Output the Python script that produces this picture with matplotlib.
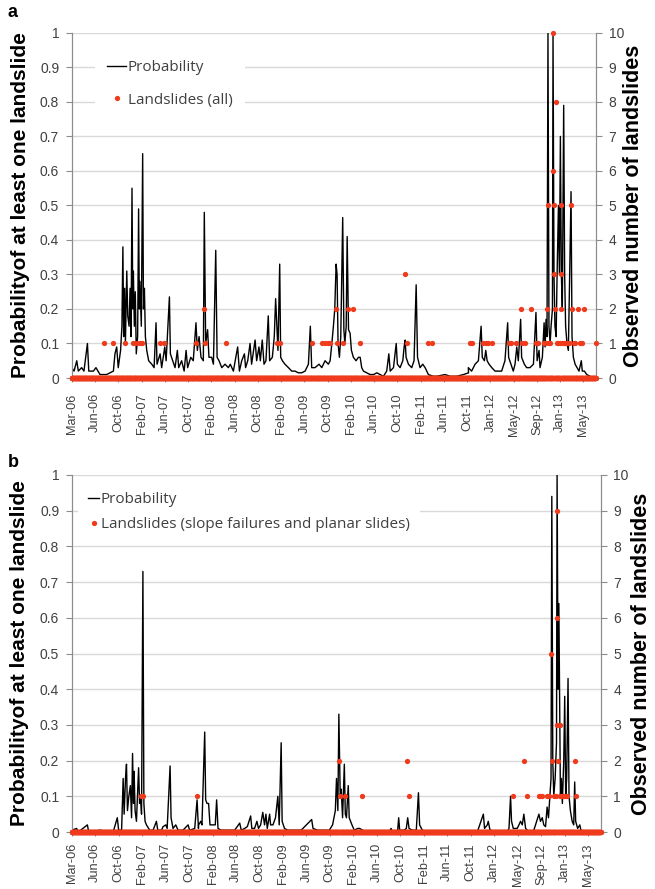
"""
Landslide probability vs observed landslides (two panels)
"""
import matplotlib
matplotlib.use("Agg")
import matplotlib.pyplot as plt
import numpy as np
import pandas as pd
from matplotlib.ticker import FuncFormatter, MultipleLocator

START = pd.Timestamp("2006-03-01")
END = pd.Timestamp("2013-07-27")

# ---------------------------------------------------------------
# Panel a - probability (day offset from START, value)
# ---------------------------------------------------------------
prob_a_day = [
    0, 12, 26, 34, 51, 63, 81, 88, 112, 125, 146, 180, 215, 223, 232, 240,
    252, 259, 264, 268, 273, 277, 284, 289, 296, 301, 306, 311, 315, 318, 323,
    328, 333, 340, 345, 349, 352, 359, 366, 370, 375, 380, 387, 397, 413, 425,
    435, 440, 456, 464, 480, 487, 504, 509, 521, 533, 545, 552, 567, 580, 590,
    598, 614, 627, 641, 648,
    657, 667, 679, 684, 691, 701, 708, 722, 731, 743, 750, 760, 774, 791, 808,
    818, 834, 856, 865, 877, 891, 897, 908, 920, 928, 946, 954, 966, 973, 983,
    992, 1002, 1014, 1021, 1035, 1045, 1052, 1057, 1064, 1073, 1078, 1087,
    1100, 1118, 1135, 1152, 1169, 1186, 1204, 1221, 1231, 1238, 1255, 1276,
    1290, 1307, 1324,
    1333, 1342, 1350, 1357, 1364, 1369, 1374, 1381, 1388, 1398, 1404, 1409,
    1416, 1421, 1428, 1436, 1443, 1453, 1467, 1479, 1488, 1496, 1505, 1522,
    1539, 1557, 1574, 1591, 1608, 1625, 1636, 1643, 1660, 1674, 1680, 1694,
    1708, 1715, 1720, 1725, 1737, 1754, 1766, 1777, 1784, 1797, 1811, 1823,
    1840, 1866, 1883, 1926, 1952, 1987, 2021, 2047,
    2046, 2063, 2081, 2098, 2112, 2118, 2129, 2136, 2143, 2153, 2167, 2184,
    2201, 2218, 2235, 2249, 2254, 2266, 2278, 2287, 2296, 2304, 2316, 2321,
    2335, 2347, 2364, 2382, 2395, 2401, 2411, 2416, 2428, 2437, 2442, 2447,
    2452, 2457, 2462, 2468, 2473, 2480, 2483, 2488, 2493, 2499, 2504, 2511,
    2516, 2521, 2526, 2531, 2538, 2543, 2548, 2555, 2562, 2569, 2576, 2581,
    2588, 2597, 2607, 2617, 2629, 2634, 2645, 2657, 2674, 2691, 2703,
]
prob_a_val = [
    0.03, 0.02, 0.05, 0.02, 0.03, 0.02, 0.10, 0.02, 0.02, 0.03, 0.01, 0.01,
    0.02, 0.07, 0.09, 0.03, 0.08, 0.15, 0.38, 0.12, 0.26, 0.10, 0.31, 0.18,
    0.15, 0.26, 0.12, 0.55, 0.20, 0.31, 0.15, 0.25, 0.07, 0.12, 0.49, 0.20,
    0.28, 0.15, 0.65, 0.20, 0.26, 0.12, 0.08, 0.05, 0.04, 0.03, 0.16, 0.04,
    0.07, 0.03, 0.09, 0.05, 0.235, 0.07, 0.05, 0.03, 0.08, 0.03, 0.05, 0.02,
    0.08, 0.03, 0.06, 0.05, 0.16, 0.08,
    0.12, 0.06, 0.05, 0.48, 0.10, 0.14, 0.06, 0.06, 0.04, 0.37, 0.06, 0.05,
    0.03, 0.04, 0.03, 0.04, 0.02, 0.09, 0.02, 0.05, 0.07, 0.03, 0.05, 0.10,
    0.04, 0.11, 0.05, 0.09, 0.05, 0.11, 0.04, 0.05, 0.18, 0.05, 0.06, 0.12,
    0.23, 0.17, 0.08, 0.33, 0.06, 0.05, 0.04, 0.03, 0.02, 0.02, 0.015, 0.015,
    0.02, 0.04, 0.15, 0.03, 0.03, 0.04, 0.03, 0.05, 0.04,
    0.05, 0.10, 0.15, 0.20, 0.33, 0.30, 0.10, 0.06, 0.12, 0.465, 0.14, 0.10,
    0.15, 0.41, 0.14, 0.13, 0.08, 0.06, 0.05, 0.06, 0.06, 0.03, 0.02, 0.015,
    0.01, 0.01, 0.015, 0.01, 0.005, 0.02, 0.07, 0.02, 0.03, 0.10, 0.04, 0.03,
    0.05, 0.09, 0.11, 0.06, 0.04, 0.03, 0.05, 0.27, 0.06, 0.03, 0.04, 0.03,
    0.01, 0.005, 0.005, 0.01, 0.005, 0.005, 0.01, 0.015,
    0.03, 0.02, 0.04, 0.05, 0.15, 0.06, 0.05, 0.08, 0.05, 0.04, 0.03, 0.02,
    0.02, 0.02, 0.05, 0.16, 0.06, 0.04, 0.02, 0.04, 0.09, 0.05, 0.17, 0.06,
    0.04, 0.03, 0.03, 0.04, 0.19, 0.05, 0.08, 0.03, 0.06, 0.16, 0.09, 0.17,
    0.12, 1.00, 0.15, 0.10, 0.15, 0.20, 1.00, 0.30, 0.15, 0.12, 0.30, 0.50,
    0.30, 0.70, 0.30, 0.20, 0.79, 0.30, 0.15, 0.10, 0.08, 0.30, 0.54, 0.12,
    0.06, 0.04, 0.03, 0.02, 0.05, 0.02, 0.02, 0.01, 0.005, 0.0, 0.0,
]

# Panel a - landslides (all): day offset, count (other days = 0)
slides_a_day = [
    167, 211, 275, 315, 339, 352, 364, 455, 478, 641, 684, 688, 794, 1057,
    1075, 1241, 1293, 1307, 1321, 1333, 1365, 1369, 1398, 1426, 1450, 1488,
    1720, 1729, 1840, 1858, 2055, 2067, 2124, 2136, 2146, 2170, 2256, 2266,
    2290, 2318, 2325, 2339, 2370, 2395, 2407, 2435, 2447, 2454, 2456, 2460,
    2466, 2483, 2485, 2487, 2490, 2492, 2497, 2502, 2511, 2517, 2523, 2524,
    2526, 2531, 2538, 2545, 2553, 2562, 2567, 2576, 2583, 2590, 2598, 2614,
    2622, 2631, 2643, 2703,
]
slides_a_n = [
    1, 1, 1, 1, 1, 1, 1, 1, 1, 1, 2, 1, 1, 1,
    1, 1, 1, 1, 1, 1, 2, 1, 1, 2, 2, 1,
    3, 1, 1, 1, 1, 1, 1, 1, 1, 1, 1, 1,
    1, 2, 1, 1, 2, 1, 1, 1, 1, 2, 5, 1,
    1, 6, 10, 5, 3, 2, 8, 1, 1, 1, 5, 3,
    2, 1, 1, 1, 1, 1, 1, 5, 2, 1, 1, 2,
    1, 1, 2, 1,
]

# ---------------------------------------------------------------
# Panel b - probability
# ---------------------------------------------------------------
prob_b_day = [
    0, 25, 34, 80, 87, 144, 212, 233, 240, 255, 263, 268, 275, 280, 285, 292,
    300, 306, 311, 316, 319, 324, 331, 342, 347, 352, 357, 364, 369, 375, 382,
    399, 416, 433, 440, 459, 467, 481, 488, 503, 508, 518, 532, 544, 569, 595,
    603, 629, 641, 648,
    649, 660, 666, 680, 685, 692, 700, 707, 723, 734, 741, 748, 765, 799, 833,
    859, 867, 884, 898, 915, 921, 935, 947, 955, 966, 977, 986, 993, 1000,
    1012, 1017, 1029, 1042, 1054, 1061, 1071, 1076, 1088, 1105, 1173, 1227,
    1234, 1258, 1309,
    1317, 1334, 1348, 1354, 1361, 1366, 1370, 1373, 1378, 1385, 1394, 1399,
    1405, 1414, 1419, 1426, 1433, 1445, 1462, 1473, 1487, 1521, 1623, 1633,
    1640, 1666, 1672, 1677, 1700, 1711, 1718, 1725, 1742, 1762, 1773, 1779,
    1793, 1827, 1997,
    2074, 2105, 2111, 2125, 2130, 2139, 2159, 2193, 2227, 2236, 2244, 2249,
    2258, 2278, 2287, 2295, 2304, 2312, 2321, 2338, 2363, 2389, 2397, 2406,
    2414, 2423, 2431, 2438, 2445, 2451, 2455, 2460, 2465, 2472, 2479, 2482,
    2487, 2491, 2496, 2499, 2504, 2509, 2516, 2521, 2526, 2531, 2538, 2543,
    2550, 2559, 2567, 2572, 2577, 2587, 2598, 2604, 2635, 2695,
]
prob_b_val = [
    0.005, 0.01, 0.0, 0.02, 0.0, 0.005, 0.0, 0.04, 0.005, 0.005, 0.15, 0.05,
    0.15, 0.19, 0.06, 0.10, 0.13, 0.04, 0.22, 0.08, 0.17, 0.06, 0.03, 0.18,
    0.08, 0.10, 0.05, 0.73, 0.08, 0.03, 0.02, 0.005, 0.005, 0.03, 0.005,
    0.005, 0.015, 0.02, 0.01, 0.185, 0.04, 0.01, 0.02, 0.005, 0.005, 0.02,
    0.005, 0.01, 0.09, 0.01,
    0.02, 0.03, 0.02, 0.28, 0.09, 0.08, 0.08, 0.02, 0.02, 0.02, 0.09, 0.01,
    0.005, 0.005, 0.005, 0.025, 0.005, 0.01, 0.015, 0.045, 0.01, 0.01, 0.03,
    0.01, 0.02, 0.055, 0.02, 0.05, 0.01, 0.05, 0.02, 0.02, 0.04, 0.10, 0.02,
    0.25, 0.03, 0.01, 0.005, 0.005, 0.035, 0.01, 0.005, 0.005,
    0.005, 0.02, 0.06, 0.15, 0.06, 0.33, 0.20, 0.10, 0.12, 0.04, 0.19, 0.05,
    0.04, 0.13, 0.04, 0.03, 0.02, 0.005, 0.01, 0.01, 0.005, 0.0, 0.0, 0.01,
    0.0, 0.0, 0.04, 0.005, 0.005, 0.01, 0.04, 0.01, 0.005, 0.005, 0.11, 0.02,
    0.005, 0.0, 0.0,
    0.0, 0.05, 0.01, 0.02, 0.03, 0.005, 0.003, 0.0, 0.0, 0.01, 0.10, 0.03,
    0.01, 0.01, 0.02, 0.03, 0.02, 0.05, 0.01, 0.0, 0.005, 0.05, 0.03, 0.04,
    0.02, 0.015, 0.07, 0.04, 0.10, 0.15, 0.94, 0.20, 0.10, 0.15, 0.25, 1.00,
    0.40, 0.64, 0.30, 0.10, 0.15, 0.08, 0.20, 0.38, 0.10, 0.15, 0.43, 0.10,
    0.06, 0.03, 0.02, 0.14, 0.03, 0.01, 0.02, 0.005, 0.0, 0.0,
]

# Panel b - landslides (slope failures and planar slides)
slides_b_day = [
    353, 365, 642, 1366, 1370, 1397, 1484, 1717, 1725, 2256, 2315, 2326,
    2389, 2397, 2406, 2431, 2441, 2451, 2458, 2465, 2474, 2479, 2482, 2484,
    2489, 2496, 2499, 2508, 2516, 2525, 2533, 2574, 2581,
]
slides_b_n = [
    1, 1, 1, 2, 1, 1, 1, 2, 1, 1, 2, 1,
    1, 1, 1, 1, 1, 5, 2, 1, 1, 3, 9, 6,
    2, 3, 1, 1, 1, 1, 1, 2, 1,
]

tick_dates = pd.date_range("2006-03-01", periods=23, freq="120D")

RED = "#F03A1C"
GRID = "#D9D9D9"
SPINE = "#8C8C8C"
TXT = "#404040"


def to_dates(days):
    return START + pd.to_timedelta(np.array(days), unit="D")


def daily_counts(days, counts):
    all_days = pd.date_range(START, END, freq="D")
    n = pd.Series(0, index=all_days, dtype=float)
    n[to_dates(days)] = counts
    return n


def draw_panel(rect, prob_day, prob_val, sl_day, sl_n, sl_label,
               leg_anchor, leg_space, handle_len, leg_pad, rlabel_x, xpad):
    ax = fig.add_axes(rect)
    ax2 = ax.twinx()

    ax.plot(to_dates(prob_day), prob_val, color="black", lw=1.0,
            label="Probability")
    n = daily_counts(sl_day, sl_n)
    ax2.plot(n.index, n.values, ls="none", marker="o", ms=3.8, color=RED,
             mec="none", label=sl_label, clip_on=False, zorder=3)

    ax.set_xlim(START, END)
    ax.set_ylim(0, 1)
    ax2.set_ylim(0, 10)
    ax.yaxis.set_major_locator(MultipleLocator(0.1))
    ax.yaxis.set_major_formatter(FuncFormatter(lambda v, p: f"{v:g}"))
    ax2.yaxis.set_major_locator(MultipleLocator(1))
    ax.grid(axis="y", color=GRID, lw=1.0)
    ax.set_axisbelow(True)

    ax.set_xticks(tick_dates)
    ax.set_xticklabels([d.strftime("%b-%y") for d in tick_dates],
                       rotation=90, fontsize=9.2, color=TXT)
    for a in (ax, ax2):
        a.spines["top"].set_visible(False)
        a.spines["bottom"].set_visible(False)
        for s in ("left", "right"):
            a.spines[s].set_color(SPINE)
        a.tick_params(axis="y", labelsize=10, labelcolor=TXT, color=SPINE,
                      length=4, pad=5)
        a.tick_params(axis="x", color=SPINE, length=3, pad=xpad)

    ax.set_ylabel("Probabilityof at least one landslide", fontsize=15,
                  fontweight="bold")
    ax.yaxis.set_label_coords(-0.08, 0.5)
    ax2.set_ylabel("Observed number of landslides", fontsize=15.5,
                   fontweight="bold", rotation=90)
    ax2.yaxis.set_label_coords(rlabel_x, 0.5)

    h1, l1 = ax.get_legend_handles_labels()
    h2, l2 = ax2.get_legend_handles_labels()
    leg = ax2.legend(h1 + h2, l1 + l2, loc="upper left",
                     bbox_to_anchor=leg_anchor, frameon=True, facecolor="white",
                     edgecolor="none", framealpha=1, fancybox=False,
                     numpoints=1, handlelength=handle_len, handletextpad=0.1,
                     labelspacing=leg_space, borderpad=leg_pad,
                     borderaxespad=0,
                     prop={"family": "Open Sans", "size": 11})
    for t in leg.get_texts():
        t.set_color(TXT)
    return ax, ax2


plt.rcParams["font.family"] = ["Liberation Sans", "DejaVu Sans"]

fig = plt.figure(figsize=(6.55, 8.89), dpi=100)

draw_panel([0.1095, 0.5748, 0.8005, 0.3882], prob_a_day, prob_a_val,
           slides_a_day, slides_a_n, "Landslides (all)",
           (0.044, 0.957), 1.15, 1.25, 0.8, 1.052, 8)
draw_panel([0.1095, 0.0641, 0.8076, 0.4016], prob_b_day, prob_b_val,
           slides_b_day, slides_b_n,
           "Landslides (slope failures and planar slides)",
           (0.011, 0.982), 0.65, 0.72, 0.7, 1.058, 5)

fig.text(0.012, 0.986, "a", fontsize=13, fontweight="bold", va="center")
fig.text(0.012, 0.480, "b", fontsize=13, fontweight="bold", va="center")

fig.savefig("out.png", dpi=100)
